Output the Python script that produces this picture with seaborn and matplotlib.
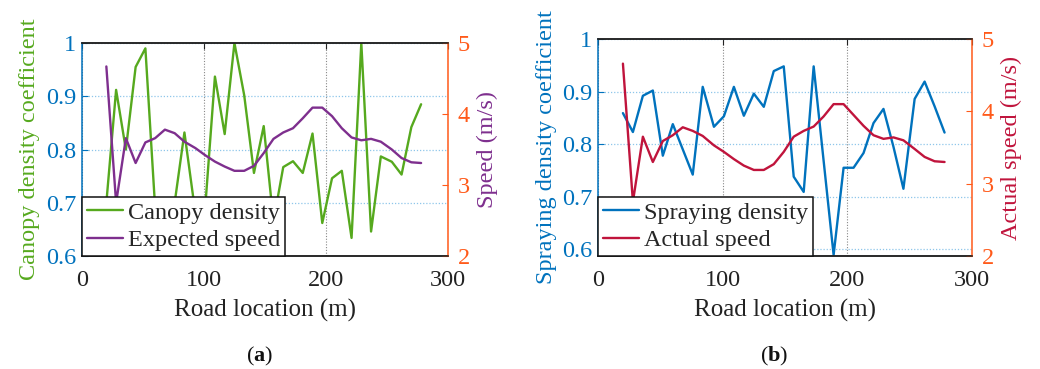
import numpy as np
import pandas as pd
import seaborn as sns
import matplotlib
matplotlib.use("Agg")
import matplotlib.pyplot as plt
from matplotlib.lines import Line2D

# road location of each sample (m), same for both panels
road_x = [20, 28, 36, 44, 52, 60, 68, 76, 84, 93, 101, 109, 117, 125, 133, 141, 149,
          157, 165, 173, 181, 189, 197, 205, 213, 221, 229, 237, 245, 254, 262, 270, 278]

# (a) canopy density coefficient and expected speed
canopy_density = [0.70, 0.912, 0.80, 0.955, 0.99, 0.69, 0.62, 0.70, 0.832, 0.68, 0.69,
                  0.937, 0.829, 1.0, 0.902, 0.756, 0.844, 0.665, 0.767, 0.778, 0.756,
                  0.83, 0.662, 0.746, 0.76, 0.634, 1.0, 0.646, 0.787, 0.777, 0.753,
                  0.842, 0.885]
expected_speed = [4.67, 2.75, 3.66, 3.31, 3.60, 3.66, 3.78, 3.73, 3.61, 3.52, 3.42,
                  3.33, 3.26, 3.20, 3.20, 3.27, 3.45, 3.65, 3.74, 3.80, 3.94, 4.09,
                  4.09, 3.97, 3.80, 3.67, 3.63, 3.65, 3.61, 3.50, 3.38, 3.32, 3.31]

# (b) spraying density coefficient and actual speed
spraying_density = [0.859, 0.823, 0.892, 0.902, 0.778, 0.838, 0.790, 0.742, 0.909,
                    0.833, 0.853, 0.909, 0.854, 0.896, 0.871, 0.939, 0.948, 0.738,
                    0.709, 0.948, 0.768, 0.589, 0.755, 0.755, 0.783, 0.840, 0.867,
                    0.795, 0.715, 0.886, 0.919, 0.872, 0.822]
actual_speed = [4.66, 2.75, 3.65, 3.30, 3.59, 3.67, 3.78, 3.73, 3.66, 3.53, 3.44,
                3.34, 3.25, 3.19, 3.19, 3.27, 3.44, 3.65, 3.73, 3.79, 3.93, 4.10,
                4.10, 3.95, 3.80, 3.67, 3.62, 3.64, 3.60, 3.48, 3.37, 3.31, 3.30]

x_ticks = [0, 100, 200, 300]
left_ticks = [0.6, 0.7, 0.8, 0.9, 1.0]
left_ticklabels = ["0.6", "0.7", "0.8", "0.9", "1"]
right_ticks = [2, 3, 4, 5]

BLUE_AX = "#0072BD"
ORANGE_AX = "#FF5A1A"
GREEN = "#56A91E"
PURPLE = "#7E2F8E"
BLUE = "#0072BD"
RED = "#C0143C"

sns.set_style("white")
plt.rcParams["font.family"] = ["Liberation Serif", "DejaVu Serif"]
plt.rcParams["mathtext.fontset"] = "custom"
plt.rcParams["mathtext.rm"] = "Liberation Serif"
plt.rcParams["mathtext.bf"] = "Liberation Serif:bold"
FS = 17.5


def draw_panel(rect, dens, speed, dens_col, speed_col, dens_name, speed_name,
               left_label, right_label, ylim_left):
    ax = fig.add_axes(rect)
    ax2 = ax.twinx()
    df = pd.DataFrame({"x": road_x, "d": dens, "s": speed})
    sns.lineplot(data=df, x="x", y="d", ax=ax, color=dens_col, lw=1.7)
    sns.lineplot(data=df, x="x", y="s", ax=ax2, color=speed_col, lw=1.7)

    ax.set_xlim(0, 300)
    ax.set_ylim(*ylim_left)
    ax2.set_ylim(2, 5)
    ax.set_xticks(x_ticks)
    ax.set_yticks(left_ticks)
    ax.set_yticklabels(left_ticklabels)
    ax2.set_yticks(right_ticks)

    ax.grid(axis="x", color="#888888", ls=(0, (1, 1.5)), lw=0.8)
    ax.grid(axis="y", color="#8EC6EA", ls=(0, (1, 1.5)), lw=0.9)

    ax.tick_params(axis="x", direction="in", length=4, pad=10, labelsize=FS,
                   colors="#222222", top=True)
    ax.tick_params(axis="y", direction="in", length=4, pad=4, labelsize=FS,
                   colors=BLUE_AX)
    ax2.tick_params(axis="y", direction="in", length=4, pad=7, labelsize=FS,
                    colors=ORANGE_AX)

    for sp in ["top", "bottom"]:
        ax.spines[sp].set_color("#222222")
        ax2.spines[sp].set_color("#222222")
    ax.spines["left"].set_color(BLUE_AX)
    ax.spines["right"].set_visible(False)
    ax2.spines["left"].set_visible(False)
    ax2.spines["right"].set_color(ORANGE_AX)
    for a in (ax, ax2):
        for sp in a.spines.values():
            sp.set_linewidth(1.1)

    ax.set_xlabel("Road location (m)", fontsize=FS + 0.5, color="#222222", labelpad=6)
    ax.set_ylabel(left_label, fontsize=FS, color=dens_col, labelpad=4)
    ax2.set_ylabel(right_label, fontsize=FS, color=speed_col, labelpad=5)

    handles = [Line2D([], [], color=dens_col, lw=1.7),
               Line2D([], [], color=speed_col, lw=1.7)]
    leg = ax2.legend(handles, [dens_name, speed_name], loc="lower left",
                     borderaxespad=0, fontsize=FS, frameon=True, fancybox=False,
                     handlelength=1.5, handletextpad=0.2, labelspacing=0.22,
                     borderpad=0.2)
    leg.get_frame().set_edgecolor("#111111")
    leg.get_frame().set_linewidth(1.1)
    leg.get_frame().set_alpha(1)
    return ax, ax2


fig = plt.figure(figsize=(10.4, 3.69), dpi=100)

draw_panel([0.0788, 0.3062, 0.3519, 0.5772], canopy_density, expected_speed,
           GREEN, PURPLE, "Canopy density", "Expected speed",
           "Canopy density coefficient", "Speed (m/s)", (0.6, 1.0))
draw_panel([0.575, 0.3062, 0.3596, 0.588], spraying_density, actual_speed,
           BLUE, RED, "Spraying density", "Actual speed",
           "Spraying density coefficient", "Actual speed (m/s)", (0.587, 1.0))

fig.text(260 / 1040, 1 - 356 / 369, r"($\mathbf{a}$)", fontsize=16,
         ha="center", va="center", color="#111111")
fig.text(774 / 1040, 1 - 356 / 369, r"($\mathbf{b}$)", fontsize=16,
         ha="center", va="center", color="#111111")

fig.savefig("out.png", dpi=100)
